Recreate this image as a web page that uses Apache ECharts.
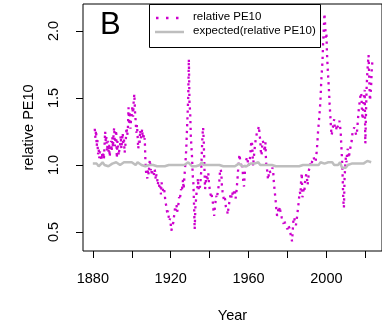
<!DOCTYPE html>
<html>
<head>
<meta charset="utf-8">
<script src="https://cdn.jsdelivr.net/npm/echarts@6/dist/echarts.min.js"></script>
<style>
  html, body { margin: 0; padding: 0; background: #fff; }
  #chart { width: 382px; height: 331px; }
</style>
</head>
<body>
<div id="chart"></div>
<script>
// relative PE10, three readings per year (1881 .. 2023)
const pe10Start = 1881
const pe10PerYear = 3
const relativePE10 = [
  // 1881-1890
  1.27, 1.20, 1.26, 1.14, 1.19, 1.08, 1.12, 1.05, 1.10, 1.07, 1.03, 1.09, 1.05, 1.10, 1.04,
  1.14, 1.25, 1.17, 1.21, 1.10, 1.18, 1.09, 1.15, 1.06, 1.12, 1.18, 1.10, 1.21, 1.13, 1.24,
  // 1891-1900
  1.28, 1.14, 1.20, 1.26, 1.05, 1.18, 1.19, 1.07, 1.12, 1.15, 1.22, 1.12, 1.18, 1.24, 1.16,
  1.19, 1.09, 1.14, 1.20, 1.28, 1.22, 1.26, 1.43, 1.30, 1.40, 1.27, 1.35, 1.38, 1.44, 1.36,
  // 1901-1910
  1.48, 1.53, 1.40, 1.33, 1.24, 1.30, 1.22, 1.12, 1.18, 1.15, 1.26, 1.20, 1.22, 1.27, 1.20,
  1.24, 1.18, 1.20, 1.04, 0.95, 0.92, 0.90, 0.97, 0.93, 1.00, 1.04, 0.96, 0.98, 0.92, 0.95,
  // 1911-1920
  0.96, 0.92, 0.97, 0.95, 0.89, 0.93, 0.91, 0.85, 0.88, 0.86, 0.82, 0.84, 0.78, 0.87, 0.83,
  0.84, 0.80, 0.82, 0.77, 0.72, 0.70, 0.69, 0.63, 0.66, 0.61, 0.58, 0.60, 0.56, 0.51, 0.53,
  // 1921-1930
  0.52, 0.57, 0.61, 0.62, 0.69, 0.66, 0.70, 0.65, 0.68, 0.71, 0.76, 0.74, 0.78, 0.82, 0.80,
  0.84, 0.89, 0.82, 0.90, 0.97, 1.04, 1.12, 1.25, 1.37, 1.50, 1.79, 1.45, 1.40, 1.22, 1.13,
  // 1931-1940
  1.05, 0.92, 0.86, 0.70, 0.52, 0.68, 0.67, 0.80, 0.82, 0.90, 0.82, 0.85, 0.83, 0.88, 0.95,
  1.10, 1.22, 1.28, 1.17, 0.98, 0.82, 0.82, 0.92, 0.88, 0.90, 0.94, 0.86, 0.86, 0.79, 0.77,
  // 1941-1950
  0.79, 0.74, 0.72, 0.66, 0.62, 0.68, 0.72, 0.77, 0.75, 0.78, 0.81, 0.80, 0.88, 0.95, 0.97,
  0.94, 0.84, 0.80, 0.79, 0.74, 0.76, 0.74, 0.69, 0.70, 0.66, 0.63, 0.68, 0.71, 0.74, 0.77,
  // 1951-1960
  0.79, 0.75, 0.78, 0.80, 0.78, 0.82, 0.80, 0.75, 0.78, 0.84, 0.90, 0.97, 1.02, 1.08, 1.04,
  1.03, 0.99, 1.01, 0.96, 0.86, 0.84, 0.92, 0.99, 1.03, 1.04, 1.06, 1.02, 0.99, 1.00, 1.04,
  // 1961-1970
  1.10, 1.16, 1.18, 1.12, 0.99, 1.05, 1.10, 1.15, 1.19, 1.21, 1.25, 1.24, 1.27, 1.29, 1.22,
  1.19, 1.10, 1.07, 1.14, 1.18, 1.16, 1.13, 1.10, 1.17, 1.02, 0.98, 0.95, 0.89, 0.92, 0.96,
  // 1971-1980
  0.97, 0.94, 0.93, 0.96, 0.98, 0.95, 0.87, 0.82, 0.77, 0.72, 0.66, 0.62, 0.64, 0.67, 0.65,
  0.69, 0.66, 0.64, 0.61, 0.59, 0.58, 0.56, 0.59, 0.57, 0.56, 0.54, 0.53, 0.52, 0.55, 0.56,
  // 1981-1990
  0.53, 0.50, 0.48, 0.46, 0.43, 0.50, 0.58, 0.61, 0.60, 0.57, 0.55, 0.59, 0.62, 0.67, 0.71,
  0.76, 0.80, 0.78, 0.88, 0.94, 0.76, 0.78, 0.82, 0.80, 0.87, 0.91, 0.93, 0.90, 0.85, 0.89,
  // 1991-2000
  0.96, 0.98, 1.01, 1.01, 0.99, 1.03, 1.04, 1.06, 1.05, 1.06, 1.02, 1.05, 1.10, 1.16, 1.24,
  1.30, 1.36, 1.42, 1.50, 1.62, 1.70, 1.78, 1.92, 2.02, 2.13, 2.05, 1.95, 1.98, 1.82, 1.72,
  // 2001-2010
  1.72, 1.55, 1.45, 1.37, 1.28, 1.22, 1.22, 1.28, 1.32, 1.34, 1.28, 1.27, 1.26, 1.30, 1.28,
  1.27, 1.31, 1.33, 1.32, 1.25, 1.14, 1.05, 0.92, 0.74, 0.68, 0.90, 0.99, 1.06, 1.02, 1.10,
  // 2011-2020
  1.12, 1.05, 1.07, 1.10, 1.13, 1.12, 1.18, 1.23, 1.26, 1.25, 1.28, 1.27, 1.28, 1.22, 1.24,
  1.30, 1.36, 1.42, 1.46, 1.50, 1.54, 1.52, 1.38, 1.34, 1.45, 1.50, 1.56, 1.16, 1.38, 1.58,
  // 2021-2023
  1.68, 1.76, 1.82, 1.65, 1.48, 1.52, 1.60, 1.72, 1.78
]

// expected(relative PE10), one reading per year (1880 .. 2023)
const expectedStart = 1880
const expectedPE10 = [
  1.01, 1.00, 1.01, 0.99, 1.00, 1.02, 1.00, 1.01, 0.99, 1.00,
  1.01, 1.00, 1.02, 1.01, 1.00, 1.01, 1.02, 1.01, 1.02, 1.01,
  1.02, 1.01, 1.00, 1.02, 1.01, 1.00, 1.01, 0.99, 0.99, 1.00,
  0.99, 1.00, 0.99, 0.99, 1.00, 0.99, 1.00, 0.99, 0.99, 1.00,
  0.99, 1.00, 0.99, 1.00, 0.99, 1.00, 0.99, 1.00, 1.01, 1.02,
  1.01, 0.99, 1.00, 0.99, 1.00, 1.00, 1.02, 1.00, 0.99, 1.00,
  0.99, 1.00, 0.99, 1.00, 0.99, 1.00, 0.99, 0.99, 1.00, 0.99,
  1.00, 0.99, 1.00, 0.99, 1.00, 1.01, 1.00, 0.99, 1.00, 0.99,
  1.00, 1.01, 1.00, 1.01, 1.00, 1.02, 1.00, 0.99, 1.00, 0.99,
  1.00, 0.99, 1.00, 0.99, 0.99, 1.00, 0.99, 1.00, 0.99, 1.00,
  0.99, 1.00, 0.99, 1.00, 0.99, 1.00, 0.99, 0.99, 1.00, 0.99,
  1.00, 0.99, 1.00, 0.99, 1.00, 1.01, 1.00, 1.02, 1.03, 1.01,
  1.00, 1.02, 1.01, 1.02, 1.00, 1.01, 1.00, 1.02, 0.98, 0.99,
  0.98, 1.00, 1.00, 1.01, 1.00, 1.01, 1.02, 1.01, 1.02, 1.01,
  1.02, 1.03, 1.02, 1.02
]

const yearTicks = [1880, 1900, 1920, 1940, 1960, 1980, 2000, 2020]
const yearLabels = [1880, 1920, 1960, 2000]
const peTicks = [0.5, 1.0, 1.5, 2.0]

const pe10Data = relativePE10.map((v, i) => [pe10Start + i / pe10PerYear, v])
const expectedData = expectedPE10.map((v, i) => [expectedStart + i, v])

const FONT = 'Liberation Sans, Arial, Helvetica, sans-serif'
const chart = echarts.init(document.getElementById('chart'), null, { renderer: 'canvas' })

chart.setOption({
  animation: false,
  backgroundColor: '#fff',
  grid: {
    left: 83,
    top: 4,
    width: 304,
    height: 247,
    show: true,
    borderColor: '#000',
    borderWidth: 1
  },
  xAxis: {
    type: 'value',
    min: 1874.95,
    max: 2028.56,
    name: 'Year',
    nameLocation: 'middle',
    nameGap: 57,
    nameTextStyle: { fontFamily: FONT, fontSize: 14.5, color: '#000' },
    splitLine: { show: false },
    axisLine: { show: false },
    axisTick: {
      show: true,
      length: 7,
      customValues: yearTicks,
      lineStyle: { color: '#000', width: 1 }
    },
    axisLabel: {
      customValues: yearLabels,
      margin: 20,
      fontFamily: FONT,
      fontSize: 14.5,
      color: '#000',
      formatter: v => String(Math.round(v))
    }
  },
  yAxis: {
    type: 'value',
    min: 0.358,
    max: 2.201,
    name: 'relative PE10',
    nameLocation: 'middle',
    nameGap: 47,
    nameTextStyle: { fontFamily: FONT, fontSize: 14.5, color: '#000' },
    splitLine: { show: false },
    axisLine: { show: false },
    axisTick: {
      show: true,
      length: 7,
      customValues: peTicks,
      lineStyle: { color: '#000', width: 1 }
    },
    axisLabel: {
      customValues: peTicks,
      rotate: 90,
      margin: 22,
      fontFamily: FONT,
      fontSize: 14.5,
      color: '#000',
      formatter: v => v.toFixed(1)
    }
  },
  series: [
    {
      name: 'relative PE10',
      type: 'line',
      data: pe10Data,
      showSymbol: false,
      lineStyle: { color: '#CD00CD', width: 2.3, type: [2.3, 4.5] },
      z: 2
    },
    {
      name: 'expected(relative PE10)',
      type: 'line',
      data: expectedData,
      showSymbol: false,
      lineStyle: { color: '#BEBEBE', width: 2.5 },
      z: 3
    }
  ],
  graphic: [
    {
      type: 'text', left: 100, top: 10,
      style: { text: 'B', fontFamily: FONT, fontSize: 31, fill: '#000' }
    },
    {
      type: 'rect', shape: { x: 149.5, y: 4.5, width: 171, height: 43 },
      style: { fill: '#fff', stroke: '#000', lineWidth: 1 }, z: 10
    },
    {
      type: 'line', shape: { x1: 156, y1: 18, x2: 184, y2: 18 },
      style: { stroke: '#CD00CD', lineWidth: 2.5, lineDash: [2.5, 7.5] }, z: 11
    },
    {
      type: 'line', shape: { x1: 155, y1: 32, x2: 184, y2: 32 },
      style: { stroke: '#BEBEBE', lineWidth: 2.5 }, z: 11
    },
    {
      type: 'text', left: 193, top: 11, z: 11,
      style: { text: 'relative PE10', fontFamily: FONT, fontSize: 11.5, fill: '#000' }
    },
    {
      type: 'text', left: 193, top: 25, z: 11,
      style: { text: 'expected(relative PE10)', fontFamily: FONT, fontSize: 11.5, fill: '#000' }
    }
  ]
})
</script>
</body>
</html>
